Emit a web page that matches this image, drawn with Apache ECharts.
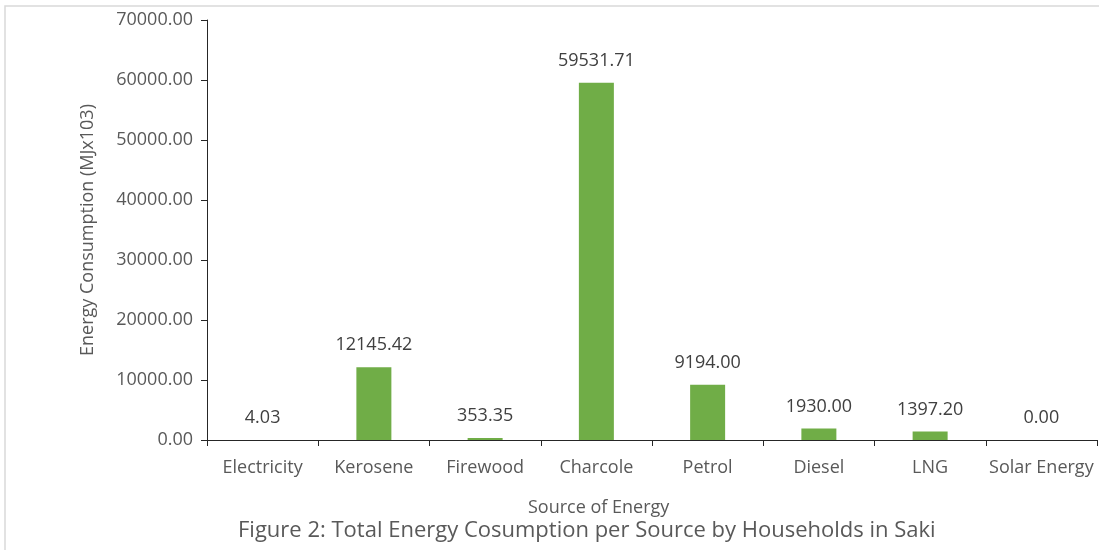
<!DOCTYPE html>
<html>
<head>
<meta charset="utf-8">
<script src="https://cdn.jsdelivr.net/npm/echarts@6/dist/echarts.min.js"></script>
<style>html,body{margin:0;padding:0;background:#fff;}#c{width:1099px;height:550px;}</style>
</head>
<body>
<div id="c"></div>
<script>
var categories = ['Electricity','Kerosene','Firewood','Charcole','Petrol','Diesel','LNG','Solar Energy'];
var values = [4.03, 12145.42, 353.35, 59531.71, 9194.00, 1930.00, 1397.20, 0.00];
var yTicks = [0, 10000, 20000, 30000, 40000, 50000, 60000, 70000];

var font = '"Open Sans", "Noto Sans", sans-serif';
var chart = echarts.init(document.getElementById('c'));
chart.setOption({
  animation: false,
  textStyle: {fontFamily: font},
  grid: {left: 207, right: 2, top: 20, bottom: 110, containLabel: false},
  graphic: [
    {type: 'rect', shape: {x: 5, y: 6, width: 1200, height: 700}, style: {fill: 'none', stroke: '#d9d9d9', lineWidth: 1.5}, silent: true},
    {type: 'text', left: 528, top: 499, style: {text: 'Source of Energy', fill: '#595959', font: '18px ' + font}},
    {type: 'text', left: 238, top: 520, style: {text: 'Figure 2: Total Energy Cosumption per Source by Households in Saki', fill: '#595959', font: '22px ' + font}}
  ],
  xAxis: {
    type: 'category',
    data: categories,
    axisLine: {lineStyle: {color: '#262626', width: 1}},
    axisTick: {show: true, length: 6, lineStyle: {color: '#262626'}, alignWithLabel: false},
    axisLabel: {color: '#595959', fontSize: 18, margin: 19, fontFamily: font, interval: 0}
  },
  yAxis: {
    type: 'value',
    min: yTicks[0], max: yTicks[yTicks.length - 1], interval: 10000,
    name: 'Energy Consumption (MJx103)',
    nameLocation: 'middle', nameGap: 110, nameRotate: 90,
    nameTextStyle: {color: '#595959', fontSize: 18, fontFamily: font},
    axisLine: {show: true, lineStyle: {color: '#262626', width: 1}},
    axisTick: {show: true, length: 6, lineStyle: {color: '#262626'}},
    splitLine: {show: false},
    axisLabel: {color: '#595959', fontSize: 18, margin: 14, fontFamily: font, formatter: function(v){return v.toFixed(2);}}
  },
  series: [{
    type: 'bar',
    data: values,
    barWidth: 35,
    itemStyle: {color: '#70AD47'},
    label: {show: true, position: 'top', distance: 13, color: '#404040', fontSize: 18, fontFamily: font,
      formatter: function(p){return p.value.toFixed(2);}}
  }]
});
</script>
</body>
</html>
